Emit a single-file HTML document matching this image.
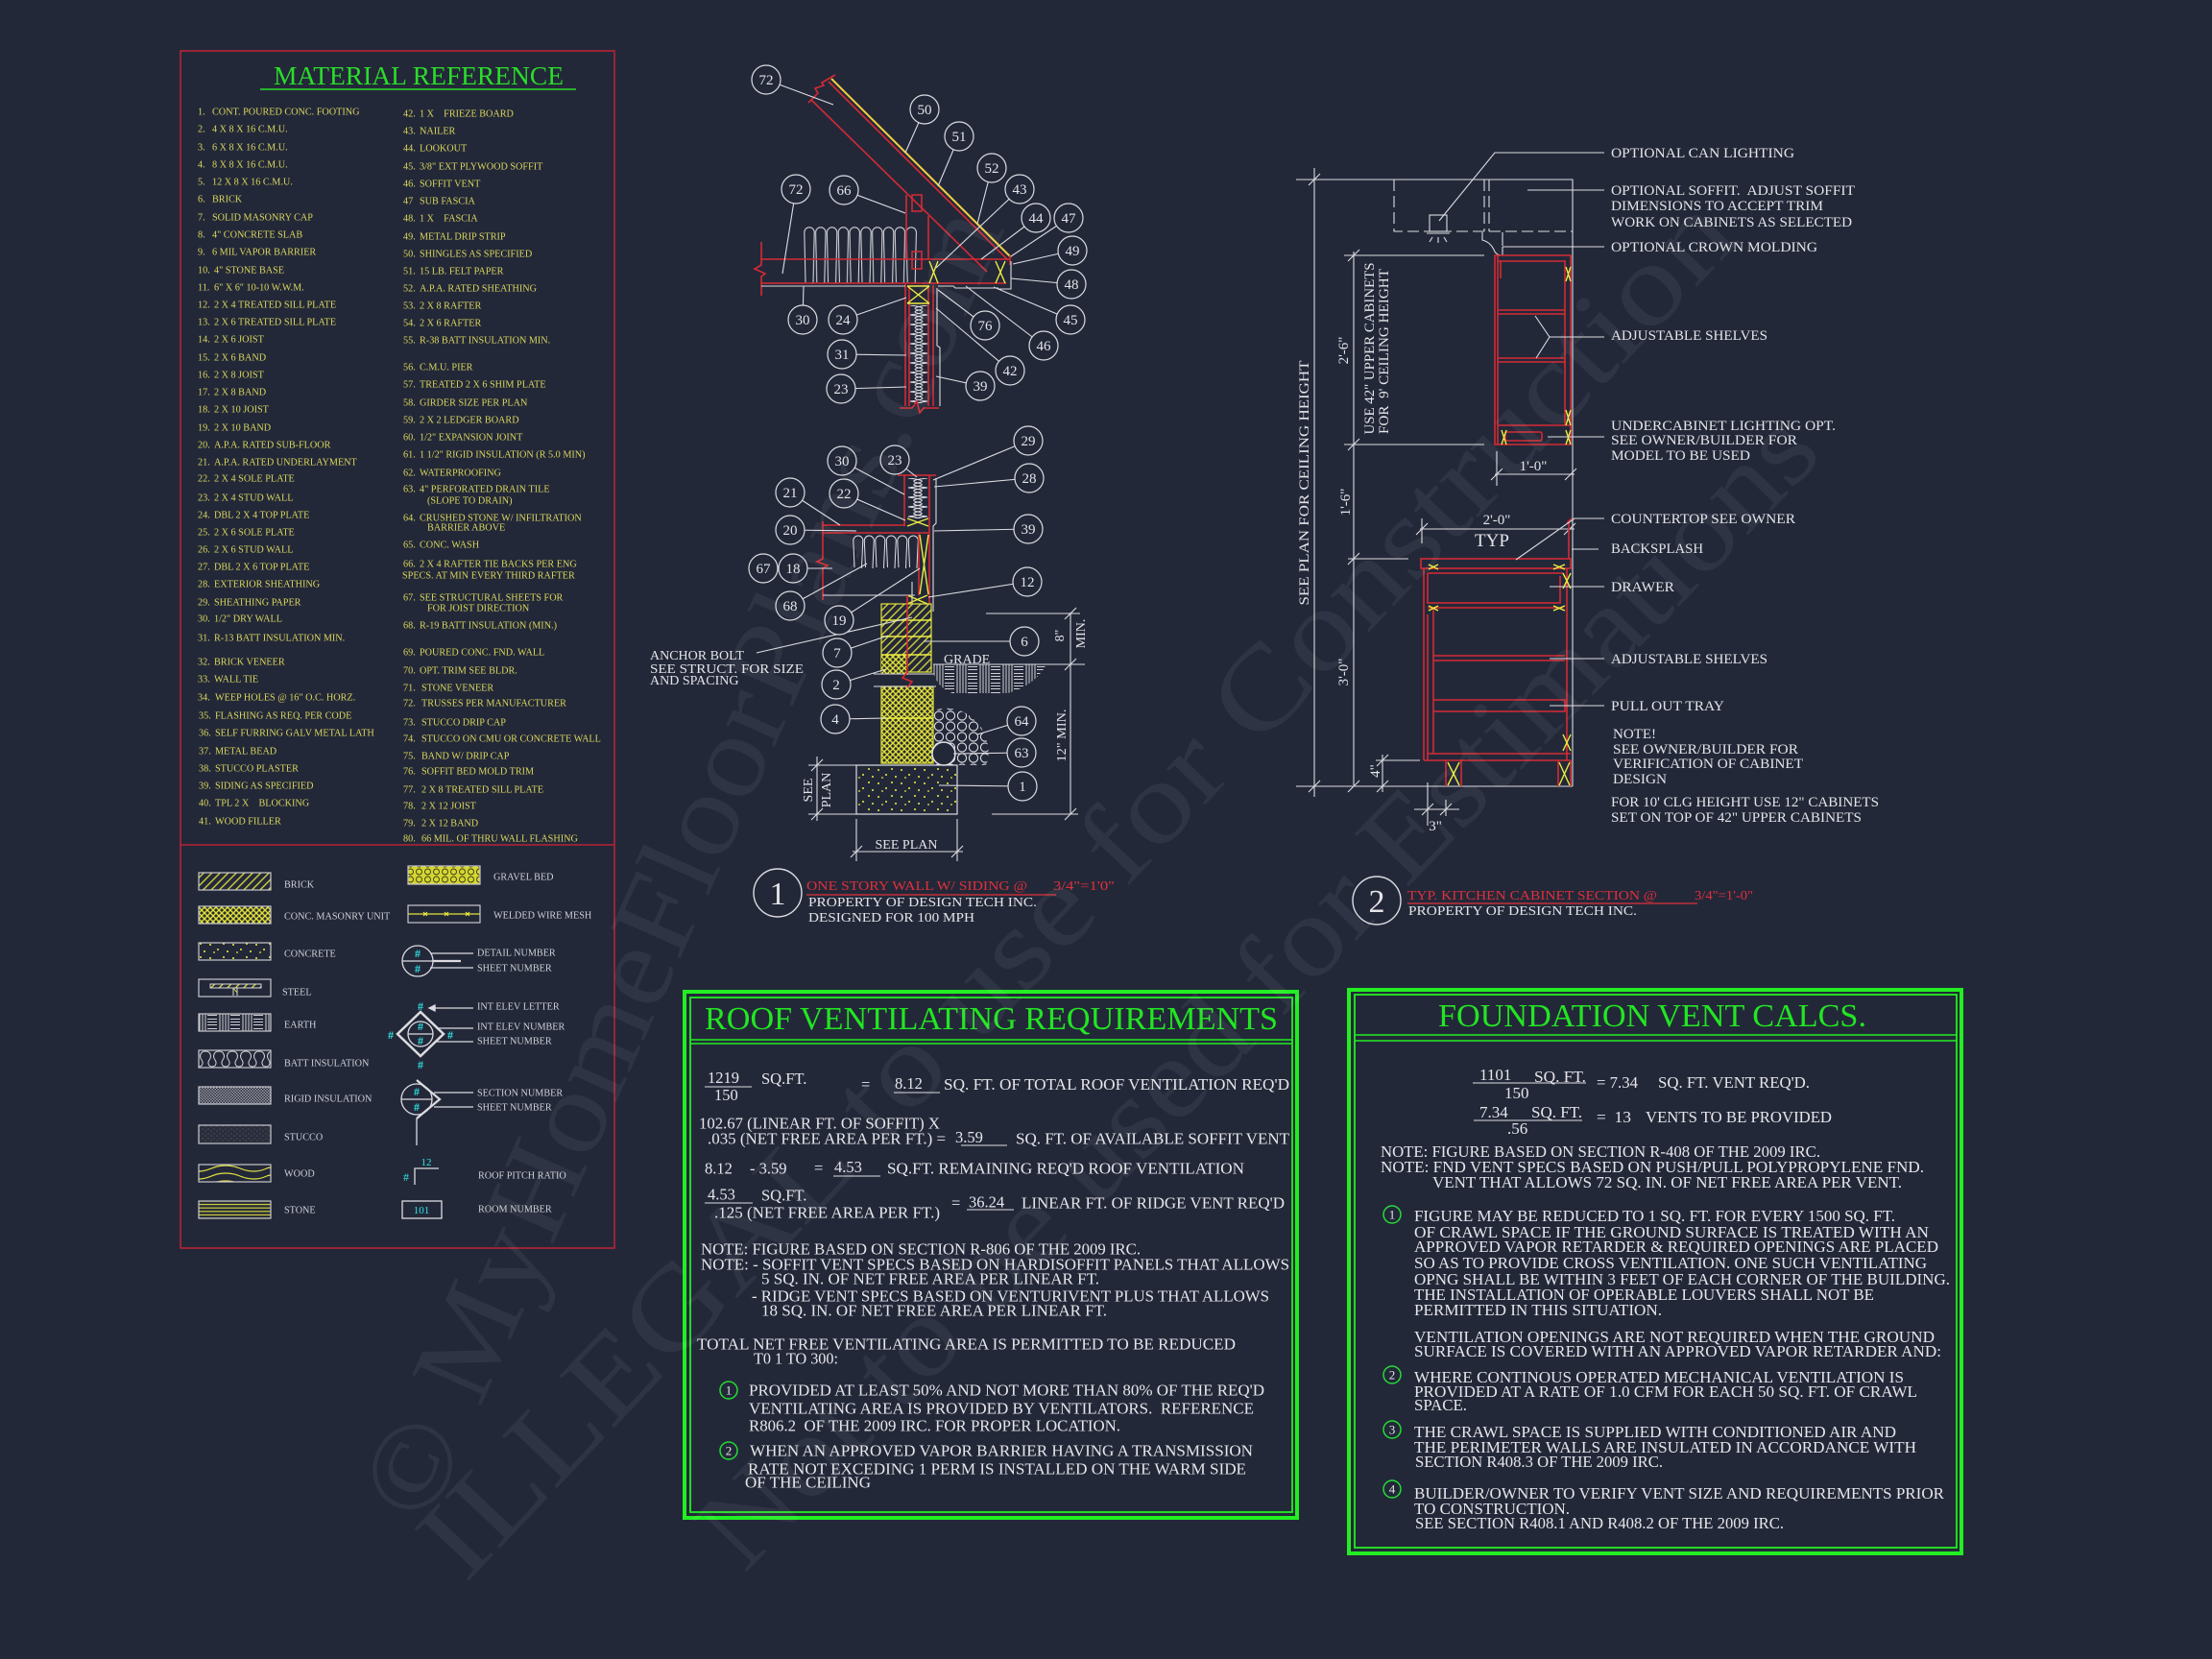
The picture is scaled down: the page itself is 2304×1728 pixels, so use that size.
<!DOCTYPE html>
<html><head><meta charset="utf-8"><style>
html,body{margin:0;padding:0;background:#232839;}
svg{display:block}
text{font-family:"Liberation Serif",serif;white-space:pre}
.y{fill:#d9d75c;font-size:10.2px}
.g{fill:#cfd0d6;font-size:10.2px}
.w{fill:#e4e4e8}
.c{fill:#2ee6e6;font-weight:bold;font-size:12px;text-anchor:middle}
.r{stroke:#d42a34;fill:none;stroke-width:1.6}
.wl{stroke:#dcdce0;fill:none;stroke-width:1.1}
.yl{stroke:#ecec40;fill:none;stroke-width:1.4}
.bub circle{fill:#232839;stroke:#dcdce0;stroke-width:1.2}
.bub text{fill:#e4e4e8;font-size:15px;text-anchor:middle}
.t16{fill:#e6e6ea;font-size:16.5px}
.t17{fill:#e6e6ea;font-size:17px}
.t15{fill:#e4e4e8;font-size:15px}
.t14{fill:#e4e4e8;font-size:14px}
.red{fill:#e0303a;font-size:14px}
.gc{fill:none;stroke:#22dd33;stroke-width:1.5}
.gt{fill:#e6e6ea;font-size:13px;text-anchor:middle}
</style></head><body>
<svg width="2304" height="1728" viewBox="0 0 2304 1728" xmlns="http://www.w3.org/2000/svg">
<defs>
<pattern id="pBrick" patternUnits="userSpaceOnUse" width="6" height="6" patternTransform="rotate(45)"><rect width="6" height="6" fill="#232839"/><line x1="1" y1="0" x2="1" y2="6" stroke="#dede3c" stroke-width="1.3"/></pattern>
<pattern id="pCMU" patternUnits="userSpaceOnUse" width="6" height="6"><rect width="6" height="6" fill="#2a2d30"/><path d="M0,0L6,6M6,0L0,6" stroke="#e2e23c" stroke-width="1.4"/></pattern>
<pattern id="pConc" patternUnits="userSpaceOnUse" width="24" height="14"><rect width="24" height="14" fill="#232839"/><circle cx="3" cy="4" r="1" fill="#f0f040"/><circle cx="11" cy="9" r="1" fill="#f0f040"/><circle cx="17" cy="3" r="1" fill="#f0f040"/><circle cx="21" cy="11" r="1" fill="#f0f040"/><circle cx="7" cy="12" r="0.9" fill="#f0f040"/></pattern>
<pattern id="pEarth" patternUnits="userSpaceOnUse" width="24" height="10"><rect width="24" height="10" fill="#232839"/><path d="M0,1.5H10M0,4.5H10M0,7.5H10M13,0V10M16,0V10M19,0V10M22,0V10" stroke="#d0d0d4" stroke-width="1"/></pattern>
<pattern id="pRigid" patternUnits="userSpaceOnUse" width="3" height="3"><rect width="3" height="3" fill="#9a9aa4"/><rect width="1.5" height="1.5" fill="#2a2e3e"/><rect x="1.5" y="1.5" width="1.5" height="1.5" fill="#2a2e3e"/></pattern>
<pattern id="pStucco" patternUnits="userSpaceOnUse" width="6" height="5"><rect width="6" height="5" fill="#2a2e3c"/><circle cx="1" cy="1" r="0.6" fill="#5a5e6a"/><circle cx="4" cy="3" r="0.6" fill="#5a5e6a"/></pattern>
<pattern id="pWood" patternUnits="userSpaceOnUse" width="75" height="8" x="207" y="1213"><rect width="75" height="8" fill="#232839"/><path d="M0,7 C12,7 14,1 28,1 C42,1 44,7 58,7 C68,7 70,3 75,3" stroke="#e0e040" fill="none" stroke-width="1.2"/></pattern>
<pattern id="pStone" patternUnits="userSpaceOnUse" width="10" height="3.6"><rect width="10" height="3.6" fill="#232839"/><line x1="0" y1="1.8" x2="10" y2="1.8" stroke="#d8d83a" stroke-width="1.2"/></pattern>
<pattern id="pGravel" patternUnits="userSpaceOnUse" width="9" height="8"><rect width="9" height="8" fill="#d6d630"/><circle cx="4.5" cy="4" r="3" fill="none" stroke="#3a3a20" stroke-width="0.9"/></pattern>
<pattern id="pGravelW" patternUnits="userSpaceOnUse" width="12" height="11" x="972" y="740"><circle cx="6" cy="5.5" r="4.6" fill="none" stroke="#e0e0e4" stroke-width="1.1"/></pattern>
<pattern id="pBattH" patternUnits="userSpaceOnUse" x="837" y="235" width="11.8" height="60"><path d="M2,59 L0.8,7 A5.2,5.2 0 0 1 11.2,7 L10,59 A1.9,1.9 0 0 0 13.8,59" stroke="#e0e0e4" fill="none" stroke-width="1"/></pattern>
<pattern id="pBattF" patternUnits="userSpaceOnUse" x="888" y="557" width="11.5" height="35"><path d="M2,34 L0.8,6 A5,5 0 0 1 10.8,6 L9.5,34 A1,1 0 0 0 13.5,34" stroke="#e0e0e4" fill="none" stroke-width="1"/></pattern>
<pattern id="pBattW" patternUnits="userSpaceOnUse" x="947" y="318" width="20" height="10"><path d="M1,0 Q21,2.5 10,5 Q-1,7.5 19,10" stroke="#e0e0e4" fill="none" stroke-width="1"/><path d="M19,0 Q-1,2.5 10,5 Q21,7.5 1,10" stroke="#e0e0e4" fill="none" stroke-width="1"/></pattern>
<pattern id="pBattW2" patternUnits="userSpaceOnUse" x="945" y="498" width="22" height="10"><path d="M1,0 Q23,2.5 11,5 Q-1,7.5 21,10" stroke="#e0e0e4" fill="none" stroke-width="1"/><path d="M21,0 Q-1,2.5 11,5 Q23,7.5 1,10" stroke="#e0e0e4" fill="none" stroke-width="1"/></pattern>
<pattern id="pBattL" patternUnits="userSpaceOnUse" x="207" y="1094" width="14" height="18"><path d="M0,17 C4,17 5,13 3,10 C0,6 2,1 7,1 C12,1 14,6 11,10 C9,13 10,17 14,17" stroke="#d8d8dc" fill="none" stroke-width="1"/></pattern>
</defs>

<rect width="2304" height="1728" fill="#232839"/>

<!-- ============ MATERIAL REFERENCE ============ -->
<rect x="188" y="53" width="452" height="1247" fill="none" stroke="#b52436" stroke-width="1.6"/>
<line x1="188" y1="880" x2="640" y2="880" stroke="#b52436" stroke-width="1.6"/>
<text x="285" y="88" font-size="27" fill="#2add2a" textLength="302" lengthAdjust="spacingAndGlyphs">MATERIAL REFERENCE</text>
<line x1="271" y1="93" x2="600" y2="93" stroke="#2add2a" stroke-width="1.5"/>

<g class="y">
<text x="206" y="119.5">1.<tspan x="221">CONT. POURED CONC. FOOTING</tspan></text>
<text x="206" y="137.5">2.<tspan x="221">4 X 8 X 16 C.M.U.</tspan></text>
<text x="206" y="156.5">3.<tspan x="221">6 X 8 X 16 C.M.U.</tspan></text>
<text x="206" y="174.5">4.<tspan x="221">8 X 8 X 16 C.M.U.</tspan></text>
<text x="206" y="192.5">5.<tspan x="221">12 X 8 X 16 C.M.U.</tspan></text>
<text x="206" y="210.5">6.<tspan x="221">BRICK</tspan></text>
<text x="206" y="229.5">7.<tspan x="221">SOLID MASONRY CAP</tspan></text>
<text x="206" y="247.5">8.<tspan x="221">4" CONCRETE SLAB</tspan></text>
<text x="206" y="265.5">9.<tspan x="221">6 MIL VAPOR BARRIER</tspan></text>
<text x="206" y="284.5">10.<tspan x="223">4" STONE BASE</tspan></text>
<text x="206" y="302.5">11.<tspan x="223">6" X 6" 10-10 W.W.M.</tspan></text>
<text x="206" y="320.5">12.<tspan x="223">2 X 4 TREATED SILL PLATE</tspan></text>
<text x="206" y="338.5">13.<tspan x="223">2 X 6 TREATED SILL PLATE</tspan></text>
<text x="206" y="356.5">14.<tspan x="223">2 X 6 JOIST</tspan></text>
<text x="206" y="375.5">15.<tspan x="223">2 X 6 BAND</tspan></text>
<text x="206" y="393.5">16.<tspan x="223">2 X 8 JOIST</tspan></text>
<text x="206" y="411.5">17.<tspan x="223">2 X 8 BAND</tspan></text>
<text x="206" y="429.5">18.<tspan x="223">2 X 10 JOIST</tspan></text>
<text x="206" y="448.5">19.<tspan x="223">2 X 10 BAND</tspan></text>
<text x="206" y="466.5">20.<tspan x="223">A.P.A. RATED SUB-FLOOR</tspan></text>
<text x="206" y="484.5">21.<tspan x="223">A.P.A. RATED UNDERLAYMENT</tspan></text>
<text x="206" y="501.5">22.<tspan x="223">2 X 4 SOLE PLATE</tspan></text>
<text x="206" y="521.5">23.<tspan x="223">2 X 4 STUD WALL</tspan></text>
<text x="206" y="539.5">24.<tspan x="223">DBL 2 X 4 TOP PLATE</tspan></text>
<text x="206" y="557.5">25.<tspan x="223">2 X 6 SOLE PLATE</tspan></text>
<text x="206" y="575.5">26.<tspan x="223">2 X 6 STUD WALL</tspan></text>
<text x="206" y="593.5">27.<tspan x="223">DBL 2 X 6 TOP PLATE</tspan></text>
<text x="206" y="611.5">28.<tspan x="223">EXTERIOR SHEATHING</tspan></text>
<text x="206" y="630.5">29.<tspan x="223">SHEATHING PAPER</tspan></text>
<text x="206" y="647.5">30.<tspan x="223">1/2" DRY WALL</tspan></text>
<text x="206" y="667.5">31.<tspan x="223">R-13 BATT INSULATION MIN.</tspan></text>
<text x="206" y="692.5">32.<tspan x="223">BRICK VENEER</tspan></text>
<text x="206" y="710.5">33.<tspan x="223">WALL TIE</tspan></text>
<text x="206" y="729.5">34.<tspan x="224">WEEP HOLES @ 16" O.C. HORZ.</tspan></text>
<text x="207" y="748.5">35.<tspan x="224">FLASHING AS REQ. PER CODE</tspan></text>
<text x="207" y="766.5">36.<tspan x="224">SELF FURRING GALV METAL LATH</tspan></text>
<text x="207" y="785.5">37.<tspan x="224">METAL BEAD</tspan></text>
<text x="207" y="803.5">38.<tspan x="224">STUCCO PLASTER</tspan></text>
<text x="207" y="821.5">39.<tspan x="224">SIDING AS SPECIFIED</tspan></text>
<text x="207" y="839.5">40.<tspan x="224">TPL 2 X    BLOCKING</tspan></text>
<text x="207" y="858.5">41.<tspan x="224">WOOD FILLER</tspan></text>

<text x="420" y="121.5">42.<tspan x="437">1 X    FRIEZE BOARD</tspan></text>
<text x="420" y="139.5">43.<tspan x="437">NAILER</tspan></text>
<text x="420" y="157.5">44.<tspan x="437">LOOKOUT</tspan></text>
<text x="420" y="176.5">45.<tspan x="437">3/8" EXT PLYWOOD SOFFIT</tspan></text>
<text x="420" y="194.5">46.<tspan x="437">SOFFIT VENT</tspan></text>
<text x="420" y="212.5">47<tspan x="437">SUB FASCIA</tspan></text>
<text x="420" y="230.5">48.<tspan x="437">1 X    FASCIA</tspan></text>
<text x="420" y="249.5">49.<tspan x="437">METAL DRIP STRIP</tspan></text>
<text x="420" y="267.5">50.<tspan x="437">SHINGLES AS SPECIFIED</tspan></text>
<text x="420" y="285.5">51.<tspan x="437">15 LB. FELT PAPER</tspan></text>
<text x="420" y="303.5">52.<tspan x="437">A.P.A. RATED SHEATHING</tspan></text>
<text x="420" y="321.5">53.<tspan x="437">2 X 8 RAFTER</tspan></text>
<text x="420" y="339.5">54.<tspan x="437">2 X 6 RAFTER</tspan></text>
<text x="420" y="357.5">55.<tspan x="437">R-38 BATT INSULATION MIN.</tspan></text>
<text x="420" y="385.5">56.<tspan x="437">C.M.U. PIER</tspan></text>
<text x="420" y="403.5">57.<tspan x="437">TREATED 2 X 6 SHIM PLATE</tspan></text>
<text x="420" y="422.5">58.<tspan x="437">GIRDER SIZE PER PLAN</tspan></text>
<text x="420" y="440.5">59.<tspan x="437">2 X 2 LEDGER BOARD</tspan></text>
<text x="420" y="458.5">60.<tspan x="437">1/2" EXPANSION JOINT</tspan></text>
<text x="420" y="476.5">61.<tspan x="437">1 1/2" RIGID INSULATION (R 5.0 MIN)</tspan></text>
<text x="420" y="495.5">62.<tspan x="437">WATERPROOFING</tspan></text>
<text x="420" y="512.5">63.<tspan x="437">4" PERFORATED DRAIN TILE</tspan></text>
<text x="445" y="524.5">(SLOPE TO DRAIN)</text>
<text x="420" y="542.5">64.<tspan x="437">CRUSHED STONE W/ INFILTRATION</tspan></text>
<text x="445" y="552.5">BARRIER ABOVE</text>
<text x="420" y="570.5">65.<tspan x="437">CONC. WASH</tspan></text>
<text x="420" y="590.5">66.<tspan x="437">2 X 4 RAFTER TIE BACKS PER ENG</tspan></text>
<text x="419" y="602.5">SPECS. AT MIN EVERY THIRD RAFTER</text>
<text x="420" y="625.5">67.<tspan x="437">SEE STRUCTURAL SHEETS FOR</tspan></text>
<text x="445" y="636.5">FOR JOIST DIRECTION</text>
<text x="420" y="654.5">68.<tspan x="437">R-19 BATT INSULATION (MIN.)</tspan></text>
<text x="420" y="682.5">69.<tspan x="437">POURED CONC. FND. WALL</tspan></text>
<text x="420" y="701.5">70.<tspan x="437">OPT. TRIM SEE BLDR.</tspan></text>
<text x="420" y="719.5">71.<tspan x="439">STONE VENEER</tspan></text>
<text x="420" y="735.5">72.<tspan x="439">TRUSSES PER MANUFACTURER</tspan></text>
<text x="420" y="755.5">73.<tspan x="439">STUCCO DRIP CAP</tspan></text>
<text x="420" y="772.5">74.<tspan x="439">STUCCO ON CMU OR CONCRETE WALL</tspan></text>
<text x="420" y="790.5">75.<tspan x="439">BAND W/ DRIP CAP</tspan></text>
<text x="420" y="806.5">76.<tspan x="439">SOFFIT BED MOLD TRIM</tspan></text>
<text x="420" y="825.5">77.<tspan x="439">2 X 8 TREATED SILL PLATE</tspan></text>
<text x="420" y="842.5">78.<tspan x="439">2 X 12 JOIST</tspan></text>
<text x="420" y="860.5">79.<tspan x="439">2 X 12 BAND</tspan></text>
<text x="420" y="876.5">80.<tspan x="439">66 MIL. OF THRU WALL FLASHING</tspan></text>
</g>

<!-- legend swatches -->
<g stroke="#c8c8cc" stroke-width="1.2">
<rect x="207" y="909" width="75" height="18" fill="url(#pBrick)"/>
<rect x="207" y="944" width="75" height="18" fill="url(#pCMU)"/>
<rect x="207" y="982" width="75" height="18" fill="url(#pConc)"/>
<rect x="207" y="1020" width="75" height="18" fill="#232839"/>
<rect x="207" y="1056" width="75" height="18" fill="url(#pEarth)"/>
<rect x="207" y="1094" width="75" height="18" fill="url(#pBattL)"/>
<rect x="207" y="1132" width="75" height="18" fill="url(#pRigid)"/>
<rect x="207" y="1172" width="75" height="19" fill="url(#pStucco)"/>
<rect x="207" y="1213" width="75" height="18" fill="url(#pWood)"/>
<rect x="207" y="1251" width="75" height="18" fill="url(#pStone)"/>
<rect x="425" y="902" width="75" height="19" fill="url(#pGravel)"/>
<rect x="425" y="943" width="75" height="18" fill="#232839"/>
</g>
<rect x="219" y="1025" width="53" height="4" fill="url(#pBrick)" stroke="#d8d8dc" stroke-width="1"/>
<path d="M243,1029 V1037 M247,1029 V1037" stroke="#d8d8dc" stroke-width="1"/>
<path d="M243,1029 L247,1034" stroke="#dede3c" stroke-width="1"/>
<path d="M425,952 H500" stroke="#e2e23c" stroke-width="1.3"/>
<path d="M441,950 L445,954 M445,950 L441,954 M463,950 L467,954 M467,950 L463,954 M485,950 L489,954 M489,950 L485,954" stroke="#f0f040" stroke-width="1"/>

<g class="g">
<text x="296" y="924.5">BRICK</text>
<text x="296" y="957.5">CONC. MASONRY UNIT</text>
<text x="296" y="996.5">CONCRETE</text>
<text x="294" y="1036.5">STEEL</text>
<text x="296" y="1070.5">EARTH</text>
<text x="296" y="1110.5">BATT INSULATION</text>
<text x="296" y="1147.5">RIGID INSULATION</text>
<text x="296" y="1187.5">STUCCO</text>
<text x="296" y="1225.5">WOOD</text>
<text x="296" y="1263.5">STONE</text>
<text x="514" y="916.5">GRAVEL BED</text>
<text x="514" y="956.5">WELDED WIRE MESH</text>
<text x="497" y="995.5">DETAIL NUMBER</text>
<text x="497" y="1011.5">SHEET NUMBER</text>
<text x="497" y="1051.5">INT ELEV LETTER</text>
<text x="497" y="1072.5">INT ELEV NUMBER</text>
<text x="497" y="1087.5">SHEET NUMBER</text>
<text x="497" y="1141.5">SECTION NUMBER</text>
<text x="497" y="1156.5">SHEET NUMBER</text>
<text x="498" y="1227.5">ROOF PITCH RATIO</text>
<text x="498" y="1262.5">ROOM NUMBER</text>
</g>

<!-- symbols -->
<g stroke="#dcdce0" fill="none" stroke-width="1.3">
<circle cx="435" cy="1001" r="16"/>
<path d="M419,1001 H451 M448,993 H493 M448,1008 H493"/>
<path d="M451,1001 H480" stroke-width="2.2"/>
<polygon points="438,1054 462,1077 438,1100 414,1077" stroke-width="2.5"/>
<circle cx="438" cy="1077" r="13"/>
<path d="M425,1077 H451 M447,1050 H493 M455,1071 H493 M455,1085 H493"/>
<path d="M447,1050 L453,1047 L453,1053 Z" fill="#dcdce0"/>
<circle cx="434" cy="1145" r="16"/>
<path d="M434,1125 L458,1145 L434,1165" stroke-width="2.2"/>
<path d="M418,1145 H450 M434,1165 V1193 M452,1138 H493 M452,1153 H493"/>
<path d="M432,1234 V1217 H457"/>
<rect x="419" y="1251" width="41" height="18"/>
</g>
<g class="c">
<text x="435" y="997">#</text><text x="435" y="1013">#</text>
<text x="438" y="1052">#</text><text x="438" y="1073">#</text><text x="438" y="1088">#</text><text x="438" y="1113">#</text>
<text x="407" y="1082">#</text><text x="469" y="1082">#</text>
<text x="434" y="1141">#</text><text x="434" y="1157">#</text>
<text x="423" y="1230" font-weight="normal">#</text>
<text x="444" y="1214" font-weight="normal" font-size="11">12</text>
<text x="439" y="1264" font-weight="normal" font-size="11">101</text>
</g>

<!-- ============ WALL SECTION 1 ============ -->
<rect x="837" y="235" width="118" height="60" fill="url(#pBattH)"/>
<rect x="947" y="318" width="20" height="102" fill="url(#pBattW)"/>
<path class="r" d="M863,85 L1050,271"/>
<path d="M866,82 L1053,268" stroke="#f0d040" stroke-width="2" fill="none"/>
<path class="r" d="M845,104 L1028,283 M842,107 L852,97 L849,92 L858,89 L856,86 L870,78"/>
<path class="r" d="M793,270 H1052 M793,295 H1048 M1052,266 V276 M793,252 V276 L786,280 L797,285 L793,288 V308"/>
<path class="r" d="M944,203 V270 M967,225 V270 M950,203 H960 V220 H950 Z M950,262 H960 V280 H950 Z"/>
<path class="r" d="M943,295 V423 M947,298 V423 M967,298 V423 M972,297 V423 M937,425 L950,425 L955,418 L958,430 L962,425 L978,425"/>
<path class="wl" d="M793,298 H943 M977,298 H993 L995,300 H1040 M1040,301 H1053 V272 M976,300 V360 L979,362 V423"/>
<path class="yl" d="M945,298 L968,316 M968,298 L945,316 M945,298 H968 M945,316 H968 M968,272 L977,295 M977,272 L968,295 M1037,272 L1047,295 M1047,272 L1037,295"/>

<path class="wl" d="M798,83 L868,109 M963,114 L943,159 M999,142 L977,194 M1033,175 L1018,233 M1062,197 L975,279 M1079,227 L1022,270 M1113,227 L1053,267 M1117,261 L1055,275 M1116,296 L1053,290 M1115,333 L1035,299 M1087,360 L1006,298 M1026,339 L977,302 M1052,386 L975,321 M1021,402 L975,392 M829,197 L815,285 M879,198 L943,222 M836,333 L837,298 M878,333 L944,310 M877,369 L944,370 M876,405 L944,403"/>

<rect x="945" y="498" width="22" height="42" fill="url(#pBattW2)"/>
<rect x="888" y="557" width="69" height="35" fill="url(#pBattF)"/>
<path class="r" d="M935,495 H975 M942,495 V548 M968,495 V700 M857,547 H943 M857,555 H967 M857,543 V582 L851,585 L862,589 L857,592 V625 M957,555 V620 M945,620 V703"/>
<path class="wl" d="M975,498 V545 L972,548 V637 M857,620 H953 M950,606 V650 L944,650"/>
<path class="yl" d="M945,540 L967,548 M967,540 L945,548 M958,557 L967,619 M967,557 L958,619 M945,620 L966,629 M966,620 L945,629"/>
<rect x="918" y="629" width="52" height="71" fill="url(#pBrick)" stroke="#e2e23c" stroke-width="1.2"/>
<rect x="918" y="682" width="26" height="20" fill="url(#pCMU)"/>
<path class="yl" d="M918,646 H970 M918,663 H970 M918,682 H970"/>
<path class="r" d="M945,620 V703"/>
<rect x="918" y="715" width="54" height="80" fill="url(#pCMU)" stroke="#e2e23c" stroke-width="1.2"/>
<path class="yl" d="M918,748 H972"/>
<path class="wl" d="M910,702 H975 M910,715 H975"/>
<path class="r" d="M945,700 L940,706 L950,710 L945,716"/>
<rect x="892" y="797" width="105" height="51" fill="url(#pConc)" stroke="#dcdce0" stroke-width="1.2"/>
<path d="M972,740 Q1002,731 1022,758 Q1034,780 1027,797 H972 Z" fill="url(#pGravelW)"/>
<circle cx="983" cy="785" r="12" fill="#232839" stroke="#e0e0e4" stroke-width="1.5"/>
<path d="M972,692 H1090 Q1078,714 1050,722 H992 Q976,716 972,700 Z" fill="url(#pEarth)"/>
<path class="wl" d="M972,692 H1090"/>
<text x="983" y="691" class="t14">GRADE</text>

<path class="wl" d="M1115,638 V848 M1109,645 L1121,633 M1109,698 L1121,686 M1109,854 L1121,842 M1027,639 H1125 M1090,692 H1130 M1033,848 H1123"/>
<path class="wl" d="M851,788 V855 M845,803 L857,791 M845,854 L857,842 M842,797 H892 M842,848 H892"/>
<path class="wl" d="M888,887 H1003 M886,893 L898,881 M991,893 L1003,881 M892,853 V897 M997,853 V897"/>
<text class="t14" transform="translate(1108,662) rotate(-90)" text-anchor="middle">8"</text>
<text class="t14" transform="translate(1130,660) rotate(-90)" text-anchor="middle">MIN.</text>
<text class="t14" transform="translate(1110,766) rotate(-90)" text-anchor="middle" textLength="55" lengthAdjust="spacingAndGlyphs">12" MIN.</text>
<text class="t14" transform="translate(846,823) rotate(-90)" text-anchor="middle">SEE</text>
<text class="t14" transform="translate(865,823) rotate(-90)" text-anchor="middle">PLAN</text>
<text class="t14" x="944" y="884" text-anchor="middle">SEE PLAN</text>
<text class="t14" x="677" y="687">ANCHOR BOLT</text>
<text class="t14" x="677" y="701" textLength="160" lengthAdjust="spacingAndGlyphs">SEE STRUCT. FOR SIZE</text>
<text class="t14" x="677" y="713">AND SPACING</text>

<path class="wl" d="M788,680 L950,643 M1071,459 L972,500 M1072,498 L973,507 M1071,551 L973,553 M1070,606 L967,622 M1067,668 L962,668 M1064,751 L1018,765 M1064,784 L993,785 M1065,819 L978,818 M877,480 L942,515 M932,479 L955,497 M823,513 L875,547 M879,514 L943,542 M823,552 L892,553 M826,592 L867,592 M823,631 L903,587 M874,646 L958,592 M872,680 L925,662 M871,713 L923,697 M870,749 L923,748"/>

<g class="bub">
<circle cx="798" cy="83" r="15"/><text x="798" y="88">72</text>
<circle cx="963" cy="114" r="15"/><text x="963" y="119">50</text>
<circle cx="999" cy="142" r="15"/><text x="999" y="147">51</text>
<circle cx="1033" cy="175" r="15"/><text x="1033" y="180">52</text>
<circle cx="1062" cy="197" r="15"/><text x="1062" y="202">43</text>
<circle cx="1079" cy="227" r="15"/><text x="1079" y="232">44</text>
<circle cx="1113" cy="227" r="15"/><text x="1113" y="232">47</text>
<circle cx="1117" cy="261" r="15"/><text x="1117" y="266">49</text>
<circle cx="1116" cy="296" r="15"/><text x="1116" y="301">48</text>
<circle cx="1115" cy="333" r="15"/><text x="1115" y="338">45</text>
<circle cx="1087" cy="360" r="15"/><text x="1087" y="365">46</text>
<circle cx="1052" cy="386" r="15"/><text x="1052" y="391">42</text>
<circle cx="1021" cy="402" r="15"/><text x="1021" y="407">39</text>
<circle cx="1026" cy="339" r="15"/><text x="1026" y="344">76</text>
<circle cx="829" cy="197" r="15"/><text x="829" y="202">72</text>
<circle cx="879" cy="198" r="15"/><text x="879" y="203">66</text>
<circle cx="836" cy="333" r="15"/><text x="836" y="338">30</text>
<circle cx="878" cy="333" r="15"/><text x="878" y="338">24</text>
<circle cx="877" cy="369" r="15"/><text x="877" y="374">31</text>
<circle cx="876" cy="405" r="15"/><text x="876" y="410">23</text>
<circle cx="1071" cy="459" r="15"/><text x="1071" y="464">29</text>
<circle cx="1072" cy="498" r="15"/><text x="1072" y="503">28</text>
<circle cx="1071" cy="551" r="15"/><text x="1071" y="556">39</text>
<circle cx="1070" cy="606" r="15"/><text x="1070" y="611">12</text>
<circle cx="1067" cy="668" r="15"/><text x="1067" y="673">6</text>
<circle cx="1064" cy="751" r="15"/><text x="1064" y="756">64</text>
<circle cx="1064" cy="784" r="15"/><text x="1064" y="789">63</text>
<circle cx="1065" cy="819" r="15"/><text x="1065" y="824">1</text>
<circle cx="877" cy="480" r="15"/><text x="877" y="485">30</text>
<circle cx="932" cy="479" r="15"/><text x="932" y="484">23</text>
<circle cx="823" cy="513" r="15"/><text x="823" y="518">21</text>
<circle cx="879" cy="514" r="15"/><text x="879" y="519">22</text>
<circle cx="823" cy="552" r="15"/><text x="823" y="557">20</text>
<circle cx="795" cy="592" r="15"/><text x="795" y="597">67</text>
<circle cx="826" cy="592" r="15"/><text x="826" y="597">18</text>
<circle cx="823" cy="631" r="15"/><text x="823" y="636">68</text>
<circle cx="874" cy="646" r="15"/><text x="874" y="651">19</text>
<circle cx="872" cy="680" r="15"/><text x="872" y="685">7</text>
<circle cx="871" cy="713" r="15"/><text x="871" y="718">2</text>
<circle cx="870" cy="749" r="15"/><text x="870" y="754">4</text>
</g>

<circle cx="810" cy="930" r="25" fill="none" stroke="#dcdce0" stroke-width="1.4"/>
<text x="810" y="942" font-size="34" fill="#e4e4e8" text-anchor="middle">1</text>
<text class="red" x="840" y="927" textLength="230" lengthAdjust="spacingAndGlyphs">ONE STORY WALL W/ SIDING @</text>
<text class="red" x="1097" y="927" textLength="64" lengthAdjust="spacingAndGlyphs">3/4"=1'0"</text>
<line x1="840" y1="932" x2="1100" y2="932" stroke="#e0303a" stroke-width="1.2"/>
<text class="t14" x="842" y="944" textLength="238" lengthAdjust="spacingAndGlyphs">PROPERTY OF DESIGN TECH INC.</text>
<text class="t14" x="842" y="960" textLength="173" lengthAdjust="spacingAndGlyphs">DESIGNED FOR 100 MPH</text>

<!-- ============ KITCHEN CABINET SECTION 2 ============ -->
<path class="wl" d="M1350,187 H1638 V819 M1350,819 H1638"/>
<path class="wl" d="M1369,175 V830 M1363,193 L1375,181 M1363,825 L1375,813"/>
<path class="wl" d="M1410,262 V818 M1404,272 L1416,260 M1404,469 L1416,457 M1404,588 L1416,576 M1404,825 L1416,813 M1400,266 H1546 M1400,463 H1546 M1404,582 H1467"/>
<path class="wl" stroke-dasharray="12,5" d="M1452,187 V241 H1638 M1546,187 V241 M1551,187 V241"/>
<rect x="1489" y="224" width="18" height="17" fill="none" stroke="#dcdce0" stroke-width="1.1"/>
<path class="wl" d="M1486,243 H1510 M1492,247 L1489,252 M1498,247 V253 M1504,247 L1507,252"/>
<path class="wl" d="M1544,242 V250 Q1552,252 1556,260 Q1558,266 1565,266 V257 M1565,242 V256"/>
<path class="r" d="M1557,266 H1636 V463 H1557 Z M1560,272 H1630 V443 M1560,266 V463 M1563,272 V290 M1560,443 H1636 M1560,323 H1630 M1560,327 H1630 M1560,373 H1630 M1560,377 H1630"/>
<rect class="r" x="1568" y="450" width="38" height="9" rx="2"/>
<path class="yl" d="M1631,278 L1636,293 M1636,278 L1631,293 M1631,427 L1636,443 M1636,427 L1631,443 M1631,448 L1636,463 M1636,448 L1631,463 M1564,448 L1569,463 M1569,448 L1564,463"/>
<path class="wl" d="M1557,494 H1640 M1553,500 L1565,488 M1630,500 L1642,488 M1559,470 V506"/>
<text class="t15" x="1597" y="490" text-anchor="middle">1'-0"</text>
<path class="wl" d="M1479,551 H1640 M1475,557 L1487,545 M1629,557 L1641,545 M1481,540 V566"/>
<text class="t15" x="1559" y="546" text-anchor="middle">2'-0"</text>
<text x="1554" y="569" font-size="19" fill="#e4e4e8" text-anchor="middle">TYP</text>
<rect class="r" x="1480" y="582" width="156" height="10"/>
<path class="r" d="M1634,542 V582 M1632,545 L1637,540"/>
<path class="r" d="M1483,592 V792 M1632,592 V792 M1487,597 H1628 M1487,597 V628 H1625 V600 M1487,633 H1628 M1487,640 V792 M1493,633 V785 M1493,683 H1630 M1493,688 H1630 M1493,729 H1630 V741 H1493 Z M1487,785 H1636 M1483,792 H1636 M1506,792 V819 M1522,792 V819 M1623,792 V819 M1636,792 V819"/>
<path class="yl" d="M1488,588 L1498,593 M1498,588 L1488,593 M1618,588 L1630,593 M1630,588 L1618,593 M1488,631 L1498,636 M1498,631 L1488,636 M1618,631 L1630,636 M1630,631 L1618,636 M1628,597 L1636,613 M1636,597 L1628,613 M1628,765 L1636,782 M1636,765 L1628,782 M1508,794 L1520,818 M1520,794 L1508,818 M1624,794 L1635,818 M1635,794 L1624,818"/>
<path class="wl" d="M1440,786 V825 M1434,798 L1446,786 M1434,825 L1446,813 M1433,792 H1479"/>
<path class="wl" d="M1473,843 H1520 M1481,849 L1493,837 M1500,849 L1512,837 M1487,815 V860 M1506,833 V850"/>
<text class="t15" x="1495" y="865" text-anchor="middle">3"</text>
<text class="t15" transform="translate(1363,503) rotate(-90)" text-anchor="middle" textLength="255" lengthAdjust="spacingAndGlyphs">SEE PLAN FOR CEILING HEIGHT</text>
<text class="t15" transform="translate(1404,365) rotate(-90)" text-anchor="middle">2'-6"</text>
<text class="t15" transform="translate(1431,363) rotate(-90)" text-anchor="middle" textLength="179" lengthAdjust="spacingAndGlyphs">USE 42" UPPER CABINETS</text>
<text class="t15" transform="translate(1446,366) rotate(-90)" text-anchor="middle" textLength="172" lengthAdjust="spacingAndGlyphs">FOR  9' CEILING HEIGHT</text>
<text class="t15" transform="translate(1406,523) rotate(-90)" text-anchor="middle">1'-6"</text>
<text class="t15" transform="translate(1404,700) rotate(-90)" text-anchor="middle">3'-0"</text>
<text class="t15" transform="translate(1437,803) rotate(-90)" text-anchor="middle">4"</text>
<path class="wl" d="M1671,159 H1557 L1499,230 M1671,198 H1591 M1671,257 H1565 M1671,351 H1614 L1599,329 M1614,351 L1600,373 M1671,455 H1612 M1671,540 H1640 L1579,583 M1665,572 H1637 M1671,611 H1614 M1671,686 H1614 M1671,735 H1614"/>
<g class="t15">
<text x="1678" y="164" textLength="191" lengthAdjust="spacingAndGlyphs">OPTIONAL CAN LIGHTING</text>
<text x="1678" y="203" textLength="254" lengthAdjust="spacingAndGlyphs">OPTIONAL SOFFIT.  ADJUST SOFFIT</text>
<text x="1678" y="219" textLength="221" lengthAdjust="spacingAndGlyphs">DIMENSIONS TO ACCEPT TRIM</text>
<text x="1678" y="236" textLength="251" lengthAdjust="spacingAndGlyphs">WORK ON CABINETS AS SELECTED</text>
<text x="1678" y="262" textLength="215" lengthAdjust="spacingAndGlyphs">OPTIONAL CROWN MOLDING</text>
<text x="1678" y="354" textLength="163" lengthAdjust="spacingAndGlyphs">ADJUSTABLE SHELVES</text>
<text x="1678" y="448" textLength="234" lengthAdjust="spacingAndGlyphs">UNDERCABINET LIGHTING OPT.</text>
<text x="1678" y="463" textLength="194" lengthAdjust="spacingAndGlyphs">SEE OWNER/BUILDER FOR</text>
<text x="1678" y="479" textLength="145" lengthAdjust="spacingAndGlyphs">MODEL TO BE USED</text>
<text x="1678" y="545" textLength="192" lengthAdjust="spacingAndGlyphs">COUNTERTOP SEE OWNER</text>
<text x="1678" y="576" textLength="96" lengthAdjust="spacingAndGlyphs">BACKSPLASH</text>
<text x="1678" y="616" textLength="66" lengthAdjust="spacingAndGlyphs">DRAWER</text>
<text x="1678" y="691" textLength="163" lengthAdjust="spacingAndGlyphs">ADJUSTABLE SHELVES</text>
<text x="1678" y="740" textLength="118" lengthAdjust="spacingAndGlyphs">PULL OUT TRAY</text>
<text x="1680" y="769" textLength="45" lengthAdjust="spacingAndGlyphs">NOTE!</text>
<text x="1680" y="785" textLength="193" lengthAdjust="spacingAndGlyphs">SEE OWNER/BUILDER FOR</text>
<text x="1680" y="800" textLength="198" lengthAdjust="spacingAndGlyphs">VERIFICATION OF CABINET</text>
<text x="1680" y="816" textLength="56" lengthAdjust="spacingAndGlyphs">DESIGN</text>
<text x="1678" y="840" textLength="279" lengthAdjust="spacingAndGlyphs">FOR 10' CLG HEIGHT USE 12" CABINETS</text>
<text x="1678" y="856" textLength="261" lengthAdjust="spacingAndGlyphs">SET ON TOP OF 42" UPPER CABINETS</text>
</g>
<circle cx="1434" cy="938" r="25" fill="none" stroke="#dcdce0" stroke-width="1.4"/>
<text x="1434" y="950" font-size="34" fill="#e4e4e8" text-anchor="middle">2</text>
<text class="red" x="1466" y="937" textLength="260" lengthAdjust="spacingAndGlyphs">TYP. KITCHEN CABINET SECTION @</text>
<text class="red" x="1765" y="937" textLength="61" lengthAdjust="spacingAndGlyphs">3/4"=1'-0"</text>
<line x1="1466" y1="941" x2="1768" y2="941" stroke="#e0303a" stroke-width="1.2"/>
<text class="t14" x="1467" y="953" textLength="238" lengthAdjust="spacingAndGlyphs">PROPERTY OF DESIGN TECH INC.</text>

<!-- ============ ROOF VENTILATING REQUIREMENTS ============ -->
<rect x="713" y="1033" width="638" height="548" fill="none" stroke="#22ee22" stroke-width="4"/>
<rect x="719" y="1039" width="627" height="536" fill="none" stroke="#22ee22" stroke-width="1.8"/>
<path d="M719,1083 H1346 M719,1087 H1346" stroke="#22ee22" stroke-width="1.5"/>
<text x="734" y="1072" font-size="34" fill="#22e622" textLength="597" lengthAdjust="spacingAndGlyphs">ROOF VENTILATING REQUIREMENTS</text>
<g class="t16">
<text x="737" y="1128">1219</text>
<text x="744" y="1146">150</text>
<text x="793" y="1129">SQ.FT.</text>
<text x="897" y="1135">=</text>
<text x="932" y="1134">8.12</text>
<text x="983" y="1135" textLength="360" lengthAdjust="spacingAndGlyphs">SQ. FT. OF TOTAL ROOF VENTILATION REQ'D</text>
<text x="728" y="1175.5" textLength="251" lengthAdjust="spacingAndGlyphs">102.67 (LINEAR FT. OF SOFFIT) X</text>
<text x="737" y="1191.5" textLength="248" lengthAdjust="spacingAndGlyphs">.035 (NET FREE AREA PER FT.) =</text>
<text x="995" y="1190">3.59</text>
<text x="1058" y="1191.5" textLength="285" lengthAdjust="spacingAndGlyphs">SQ. FT. OF AVAILABLE SOFFIT VENT</text>
<text x="734" y="1222.5">8.12</text>
<text x="781" y="1222.5">- 3.59</text>
<text x="848" y="1222">=</text>
<text x="869" y="1221">4.53</text>
<text x="924" y="1222.5" textLength="372" lengthAdjust="spacingAndGlyphs">SQ.FT. REMAINING REQ'D ROOF VENTILATION</text>
<text x="737" y="1249.5">4.53</text>
<text x="793" y="1250.5">SQ.FT.</text>
<text x="744" y="1268.5" textLength="235" lengthAdjust="spacingAndGlyphs">.125 (NET FREE AREA PER FT.)</text>
<text x="991" y="1258.5">=</text>
<text x="1009" y="1257.5">36.24</text>
<text x="1064" y="1258.5" textLength="274" lengthAdjust="spacingAndGlyphs">LINEAR FT. OF RIDGE VENT REQ'D</text>
<text x="730" y="1306.5" textLength="458" lengthAdjust="spacingAndGlyphs">NOTE: FIGURE BASED ON SECTION R-806 OF THE 2009 IRC.</text>
<text x="730" y="1322.5" textLength="613" lengthAdjust="spacingAndGlyphs">NOTE: - SOFFIT VENT SPECS BASED ON HARDISOFFIT PANELS THAT ALLOWS</text>
<text x="793" y="1337.5" textLength="352" lengthAdjust="spacingAndGlyphs">5 SQ. IN. OF NET FREE AREA PER LINEAR FT.</text>
<text x="783" y="1355.5" textLength="539" lengthAdjust="spacingAndGlyphs">- RIDGE VENT SPECS BASED ON VENTURIVENT PLUS THAT ALLOWS</text>
<text x="793" y="1370.5" textLength="360" lengthAdjust="spacingAndGlyphs">18 SQ. IN. OF NET FREE AREA PER LINEAR FT.</text>
<text x="726" y="1405.5" textLength="561" lengthAdjust="spacingAndGlyphs">TOTAL NET FREE VENTILATING AREA IS PERMITTED TO BE REDUCED</text>
<text x="785" y="1420.5" textLength="88" lengthAdjust="spacingAndGlyphs">T0 1 TO 300:</text>
<text x="780" y="1453.5" textLength="537" lengthAdjust="spacingAndGlyphs">PROVIDED AT LEAST 50% AND NOT MORE THAN 80% OF THE REQ'D</text>
<text x="780" y="1472.5" textLength="526" lengthAdjust="spacingAndGlyphs">VENTILATING AREA IS PROVIDED BY VENTILATORS.  REFERENCE</text>
<text x="780" y="1490.5" textLength="387" lengthAdjust="spacingAndGlyphs">R806.2  OF THE 2009 IRC. FOR PROPER LOCATION.</text>
<text x="781" y="1516.5" textLength="524" lengthAdjust="spacingAndGlyphs">WHEN AN APPROVED VAPOR BARRIER HAVING A TRANSMISSION</text>
<text x="779" y="1535.5" textLength="519" lengthAdjust="spacingAndGlyphs">RATE NOT EXCEDING 1 PERM IS INSTALLED ON THE WARM SIDE</text>
<text x="776" y="1549.5" textLength="131" lengthAdjust="spacingAndGlyphs">OF THE CEILING</text>
</g>
<path class="wl" d="M734,1132 H783 M931,1138 H979 M1001,1193 H1049 M868,1225 H917 M734,1253 H784 M1007,1260 H1056"/>
<circle class="gc" cx="759" cy="1448" r="9"/><text class="gt" x="759" y="1452.5">1</text>
<circle class="gc" cx="759" cy="1511" r="9"/><text class="gt" x="759" y="1515.5">2</text>

<!-- ============ FOUNDATION VENT CALCS ============ -->
<rect x="1405" y="1031" width="638" height="587" fill="none" stroke="#22ee22" stroke-width="4"/>
<rect x="1411" y="1036" width="627" height="576" fill="none" stroke="#22ee22" stroke-width="1.8"/>
<path d="M1411,1078 H2038 M1411,1084 H2038" stroke="#22ee22" stroke-width="1.5"/>
<text x="1498" y="1069" font-size="34" fill="#22e622" textLength="446" lengthAdjust="spacingAndGlyphs">FOUNDATION VENT CALCS.</text>
<g class="t17">
<text x="1541" y="1125">1101</text>
<text x="1598" y="1127" textLength="54" lengthAdjust="spacingAndGlyphs">SQ. FT.</text>
<text x="1567" y="1144">150</text>
<text x="1663" y="1133" textLength="43" lengthAdjust="spacingAndGlyphs">= 7.34</text>
<text x="1727" y="1133" textLength="158" lengthAdjust="spacingAndGlyphs">SQ. FT. VENT REQ'D.</text>
<text x="1541" y="1164">7.34</text>
<text x="1595" y="1164" textLength="53" lengthAdjust="spacingAndGlyphs">SQ. FT.</text>
<text x="1570" y="1181">.56</text>
<text x="1663" y="1169" textLength="36" lengthAdjust="spacingAndGlyphs">=  13</text>
<text x="1714" y="1169" textLength="194" lengthAdjust="spacingAndGlyphs">VENTS TO BE PROVIDED</text>
<text x="1438" y="1205" textLength="458" lengthAdjust="spacingAndGlyphs">NOTE: FIGURE BASED ON SECTION R-408 OF THE 2009 IRC.</text>
<text x="1438" y="1221" textLength="566" lengthAdjust="spacingAndGlyphs">NOTE: FND VENT SPECS BASED ON PUSH/PULL POLYPROPYLENE FND.</text>
<text x="1492" y="1237" textLength="489" lengthAdjust="spacingAndGlyphs">VENT THAT ALLOWS 72 SQ. IN. OF NET FREE AREA PER VENT.</text>
<text x="1473" y="1272" textLength="501" lengthAdjust="spacingAndGlyphs">FIGURE MAY BE REDUCED TO 1 SQ. FT. FOR EVERY 1500 SQ. FT.</text>
<text x="1473" y="1289" textLength="536" lengthAdjust="spacingAndGlyphs">OF CRAWL SPACE IF THE GROUND SURFACE IS TREATED WITH AN</text>
<text x="1473" y="1304" textLength="546" lengthAdjust="spacingAndGlyphs">APPROVED VAPOR RETARDER &amp; REQUIRED OPENINGS ARE PLACED</text>
<text x="1473" y="1321" textLength="534" lengthAdjust="spacingAndGlyphs">SO AS TO PROVIDE CROSS VENTILATION. ONE SUCH VENTILATING</text>
<text x="1473" y="1338" textLength="558" lengthAdjust="spacingAndGlyphs">OPNG SHALL BE WITHIN 3 FEET OF EACH CORNER OF THE BUILDING.</text>
<text x="1473" y="1354" textLength="479" lengthAdjust="spacingAndGlyphs">THE INSTALLATION OF OPERABLE LOUVERS SHALL NOT BE</text>
<text x="1473" y="1370" textLength="258" lengthAdjust="spacingAndGlyphs">PERMITTED IN THIS SITUATION.</text>
<text x="1473" y="1398" textLength="542" lengthAdjust="spacingAndGlyphs">VENTILATION OPENINGS ARE NOT REQUIRED WHEN THE GROUND</text>
<text x="1473" y="1413" textLength="549" lengthAdjust="spacingAndGlyphs">SURFACE IS COVERED WITH AN APPROVED VAPOR RETARDER AND:</text>
<text x="1473" y="1440" textLength="510" lengthAdjust="spacingAndGlyphs">WHERE CONTINOUS OPERATED MECHANICAL VENTILATION IS</text>
<text x="1473" y="1455" textLength="524" lengthAdjust="spacingAndGlyphs">PROVIDED AT A RATE OF 1.0 CFM FOR EACH 50 SQ. FT. OF CRAWL</text>
<text x="1473" y="1469" textLength="55" lengthAdjust="spacingAndGlyphs">SPACE.</text>
<text x="1473" y="1497" textLength="502" lengthAdjust="spacingAndGlyphs">THE CRAWL SPACE IS SUPPLIED WITH CONDITIONED AIR AND</text>
<text x="1473" y="1513" textLength="523" lengthAdjust="spacingAndGlyphs">THE PERIMETER WALLS ARE INSULATED IN ACCORDANCE WITH</text>
<text x="1474" y="1528" textLength="258" lengthAdjust="spacingAndGlyphs">SECTION R408.3 OF THE 2009 IRC.</text>
<text x="1473" y="1561" textLength="552" lengthAdjust="spacingAndGlyphs">BUILDER/OWNER TO VERIFY VENT SIZE AND REQUIREMENTS PRIOR</text>
<text x="1473" y="1577" textLength="162" lengthAdjust="spacingAndGlyphs">TO CONSTRUCTION.</text>
<text x="1474" y="1592" textLength="384" lengthAdjust="spacingAndGlyphs">SEE SECTION R408.1 AND R408.2 OF THE 2009 IRC.</text>
</g>
<path class="wl" d="M1534,1128 H1652 M1535,1167 H1648"/>
<circle class="gc" cx="1450" cy="1265" r="9"/><text class="gt" x="1450" y="1269.5">1</text>
<circle class="gc" cx="1450" cy="1432" r="9"/><text class="gt" x="1450" y="1436.5">2</text>
<circle class="gc" cx="1450" cy="1489" r="9"/><text class="gt" x="1450" y="1493.5">3</text>
<circle class="gc" cx="1450" cy="1551" r="9"/><text class="gt" x="1450" y="1555.5">4</text>

<!-- ============ WATERMARK ============ -->
<g fill="#ffffff" fill-opacity="0.06" font-size="120">
<text transform="translate(445,1590) rotate(-66)" textLength="1480" lengthAdjust="spacingAndGlyphs">© MyHomeFloorPlans.com</text>
<text transform="translate(485,1650) rotate(-46.5)" textLength="1930" lengthAdjust="spacingAndGlyphs">ILLEGAL to use for Construction</text>
<text transform="translate(775,1640) rotate(-46)" textLength="1620" lengthAdjust="spacingAndGlyphs">Not to be used for Estimations</text>
</g>
</svg>
</body></html>
